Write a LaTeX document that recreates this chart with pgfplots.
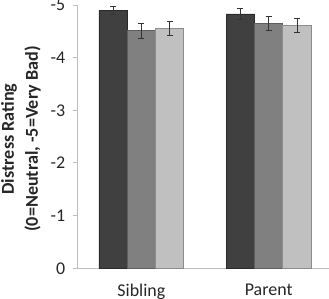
\documentclass[border=0pt]{standalone}
\usepackage{fontspec}
\setmainfont{Carlito}
\usepackage{pgfplots}
\pgfplotsset{compat=1.18}

\definecolor{barDark}{HTML}{404040}
\definecolor{barMid}{HTML}{808080}
\definecolor{barLight}{HTML}{C0C0C0}
\definecolor{edgeDark}{HTML}{2A2A2A}
\definecolor{edgeMid}{HTML}{5E5E5E}
\definecolor{edgeLight}{HTML}{8C8C8C}
\definecolor{axisGray}{HTML}{BEBEBE}

\begin{document}
\begin{tikzpicture}
\useasboundingbox (-77.7bp,-30.7bp) rectangle (251.3bp,268.3bp);
\begin{axis}[
  at={(0,0)}, anchor=south west,
  scale only axis,
  width=251.3bp, height=263.3bp,
  xmin=-0.5, xmax=1.474,
  ymin=-5, ymax=0,
  y dir=reverse,
  axis x line*=bottom,
  axis y line*=left,
  axis line style={draw=axisGray, line width=1bp},
  every tick/.style={draw=axisGray, line width=1bp},
  tick align=outside,
  major tick length=5bp,
  ytick={-5,-4,-3,-2,-1,0},
  yticklabels={-5,-4,-3,-2,-1,0},
  xtick={0,1},
  xticklabels={Sibling,Parent},
  x tick style={draw=none},
  extra x ticks={0.5},
  extra x tick labels={},
  extra x tick style={tick align=inside, major tick style={draw=axisGray, line width=1bp}},
  tick label style={font=\fontsize{18}{21}\selectfont, text=black!85},
  yticklabel style={xshift=-4bp},
  xticklabel style={yshift=-7bp},
  ylabel={Distress Rating\\(0=Neutral, -5=Very Bad)},
  ylabel style={at={(axis description cs:0,0.491)}, anchor=center, yshift=56.7bp,
    align=center, font=\bfseries\fontsize{18.2}{24}\selectfont, text=black!85},
  ybar,
  bar width=0.2223,
  error bars/y dir=both,
  error bars/y explicit,
  error bars/error bar style={line width=0.9bp, draw=black!80},
  error bars/error mark options={rotate=90, mark size=3bp, line width=0.9bp, draw=black!80},
]
\addplot[fill=barDark, draw=edgeDark, line width=0.8bp, bar shift=-0.2223]
  coordinates {(0,-4.89) +- (0,0.076) (1,-4.83) +- (0,0.105)};
\addplot[fill=barMid, draw=edgeMid, line width=0.8bp, bar shift=0]
  coordinates {(0,-4.51) +- (0,0.145) (1,-4.645) +- (0,0.13)};
\addplot[fill=barLight, draw=edgeLight, line width=0.8bp, bar shift=0.2223]
  coordinates {(0,-4.55) +- (0,0.13) (1,-4.61) +- (0,0.135)};
\end{axis}
\end{tikzpicture}
\end{document}
